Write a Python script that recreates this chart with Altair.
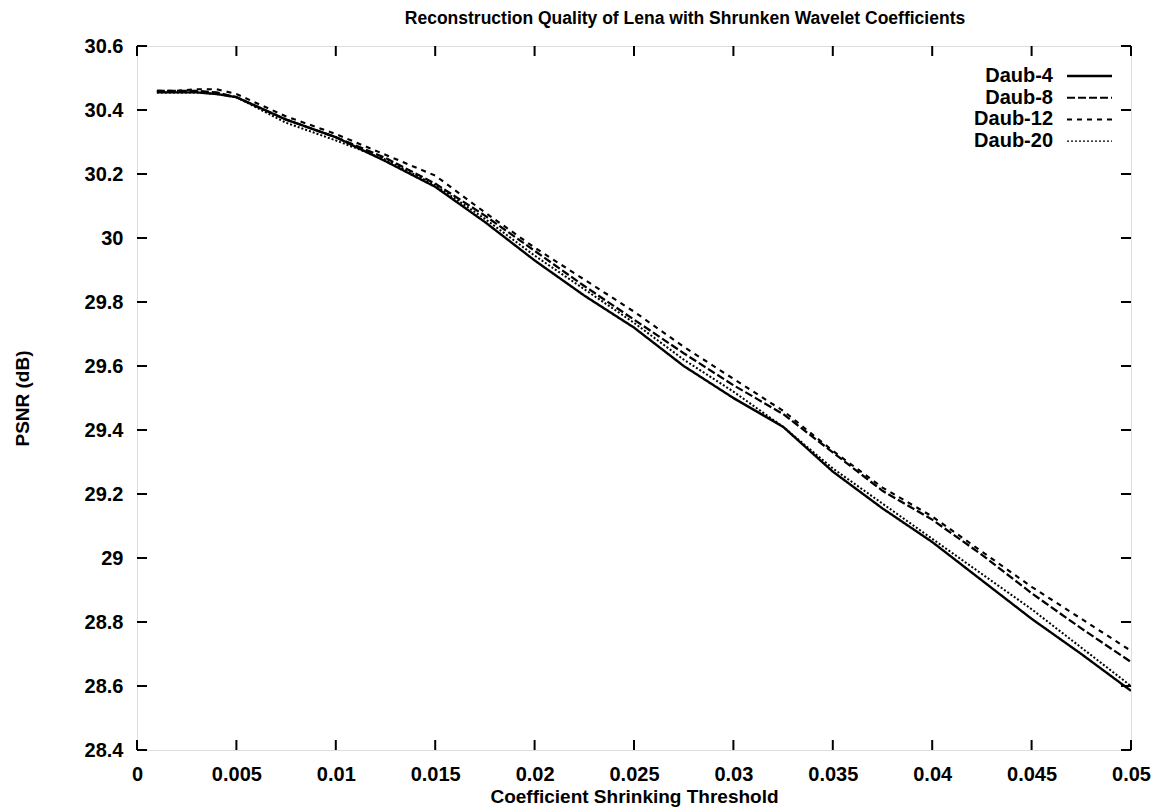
import altair as alt
import pandas as pd

# ---- data ----
thresholds = [0.001, 0.002, 0.003, 0.004, 0.005, 0.0075, 0.01, 0.0125, 0.015, 0.0175,
              0.02, 0.0225, 0.025, 0.0275, 0.03, 0.0325, 0.035, 0.0375, 0.04, 0.0425,
              0.045, 0.0475, 0.05]

daub4 = [30.455, 30.455, 30.455, 30.45, 30.44, 30.37, 30.315, 30.24, 30.16, 30.05,
         29.93, 29.82, 29.72, 29.60, 29.50, 29.41, 29.27, 29.155, 29.05, 28.93,
         28.81, 28.70, 28.585]
daub8 = [30.46, 30.46, 30.46, 30.455, 30.44, 30.37, 30.315, 30.25, 30.17, 30.07,
         29.96, 29.85, 29.745, 29.64, 29.54, 29.45, 29.33, 29.21, 29.12, 29.01,
         28.89, 28.78, 28.675]
daub12 = [30.46, 30.46, 30.465, 30.465, 30.45, 30.38, 30.325, 30.26, 30.195, 30.08,
          29.97, 29.87, 29.77, 29.66, 29.56, 29.46, 29.335, 29.22, 29.13, 29.02,
          28.91, 28.81, 28.71]
daub20 = [30.455, 30.455, 30.455, 30.45, 30.44, 30.36, 30.305, 30.245, 30.165, 30.06,
          29.945, 29.84, 29.735, 29.62, 29.52, 29.41, 29.28, 29.17, 29.06, 28.95,
          28.84, 28.72, 28.60]

series_names = ["Daub-4", "Daub-8", "Daub-12", "Daub-20"]
series_values = [daub4, daub8, daub12, daub20]

y_ticks = [28.4, 28.6, 28.8, 29.0, 29.2, 29.4, 29.6, 29.8, 30.0, 30.2, 30.4, 30.6]
x_ticks = [0, 0.005, 0.01, 0.015, 0.02, 0.025, 0.03, 0.035, 0.04, 0.045, 0.05]

# ---- styles ----
dashes = [[1, 0], [8, 3], [5, 5], [2, 2]]
widths = [2.4, 2.0, 2.0, 1.4]
FONT = "Liberation Sans"
W, H = 994, 704
TICK = 10

rows = []
for name, vals in zip(series_names, series_values):
    for x, y in zip(thresholds, vals):
        rows.append({"threshold": x, "psnr": y, "series": name})
df = pd.DataFrame(rows)

xscale = alt.Scale(domain=[0, 0.05], nice=False, zero=False)
yscale = alt.Scale(domain=[28.4, 30.6], nice=False, zero=False)

lines = alt.Chart(df).mark_line(color="black", clip=True).encode(
    x=alt.X("threshold:Q", scale=xscale,
            axis=alt.Axis(values=x_ticks, format="~g", title="Coefficient Shrinking Threshold",
                          grid=False, domain=False, ticks=False, tickSize=0,
                          labelPadding=14, labelFontSize=20, labelFont=FONT,
                          labelFontWeight="bold", labelColor="black",
                          titleFontSize=19, titleFont=FONT, titleFontWeight="bold",
                          titleColor="black", titleY=46, titleBaseline="middle",
                          labelFlush=False)),
    y=alt.Y("psnr:Q", scale=yscale,
            axis=alt.Axis(values=y_ticks, format="~g", title="PSNR (dB)",
                          grid=False, domain=False, ticks=False, tickSize=0,
                          labelPadding=14, labelFontSize=20, labelFont=FONT,
                          labelFontWeight="bold", labelColor="black",
                          titleFontSize=19, titleFont=FONT, titleFontWeight="bold",
                          titleColor="black", titleX=-115, titleY=H / 2,
                          titleAngle=270, titleBaseline="middle", labelFlush=False)),
    strokeDash=alt.StrokeDash("series:N", scale=alt.Scale(domain=series_names, range=dashes),
                              legend=None),
    strokeWidth=alt.StrokeWidth("series:N", scale=alt.Scale(domain=series_names, range=widths),
                                legend=None),
    detail="series:N",
)

ytick_df = pd.DataFrame({"v": y_ticks})
xtick_df = pd.DataFrame({"v": x_ticks})

left_ticks = alt.Chart(ytick_df).mark_rule(color="black", strokeWidth=2).encode(
    y=alt.Y("v:Q", scale=yscale), x=alt.value(0), x2=alt.value(TICK))
right_ticks = alt.Chart(ytick_df).mark_rule(color="black", strokeWidth=2).encode(
    y=alt.Y("v:Q", scale=yscale), x=alt.value(W - TICK), x2=alt.value(W))
bottom_ticks = alt.Chart(xtick_df).mark_rule(color="black", strokeWidth=2).encode(
    x=alt.X("v:Q", scale=xscale), y=alt.value(H - TICK), y2=alt.value(H))
top_ticks = alt.Chart(xtick_df).mark_rule(color="black", strokeWidth=2).encode(
    x=alt.X("v:Q", scale=xscale), y=alt.value(0), y2=alt.value(TICK))

# manual legend (labels left of the line samples, as in the reference)
legend_layers = []
for k, name in enumerate(series_names):
    ly = 30 + k * 21.7
    ldf = pd.DataFrame({"series": [name]})
    legend_layers.append(
        alt.Chart(ldf).mark_text(align="right", baseline="middle", font=FONT,
                                 fontWeight="bold", fontSize=20, color="black").encode(
            text="series:N", x=alt.value(916), y=alt.value(ly)))
    legend_layers.append(
        alt.Chart(ldf).mark_rule(color="black", strokeDash=dashes[k],
                                 strokeWidth=widths[k]).encode(
            x=alt.value(930), x2=alt.value(975), y=alt.value(ly)))

chart = alt.layer(lines, left_ticks, right_ticks, bottom_ticks, top_ticks,
                  *legend_layers).properties(
    width=W, height=H,
    title=alt.TitleParams("Reconstruction Quality of Lena with Shrunken Wavelet Coefficients",
                          font=FONT, fontSize=17.5, fontWeight="bold", color="black",
                          anchor="middle", dx=51, offset=9, frame="group"),
    autosize=alt.AutoSizeParams(type="none"),
    padding={"left": 129, "top": 38, "right": 21, "bottom": 58},
).configure_view(stroke="black", strokeWidth=2).configure(background="white")

chart.save("out.html", embed_options={"renderer": "svg", "actions": False})
